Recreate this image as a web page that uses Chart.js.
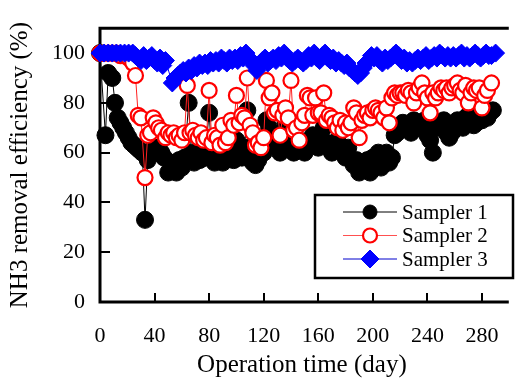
<!DOCTYPE html>
<html>
<head>
<meta charset="utf-8">
<script src="https://cdn.jsdelivr.net/npm/chart.js@4/dist/chart.umd.min.js"></script>
<style>
  html, body { margin: 0; padding: 0; background: #fff; }
</style>
</head>
<body>
<canvas id="grafico" width="520" height="386"></canvas>
<script>
// data (day, NH3 removal %)
const sampler1Days = [0, 4, 6, 9, 11, 13, 15, 17, 19, 21, 23, 25, 27, 29, 31, 33, 35, 37, 39, 41, 43, 45, 47, 50, 52, 54, 56, 58, 60, 62, 65, 67, 69, 71, 73, 75, 77, 80, 82, 84, 86, 88, 90, 92, 94, 96, 98, 100, 102, 104, 106, 108, 110, 112, 114, 116, 118, 120, 122, 124, 126, 128, 130, 132, 134, 136, 138, 140, 142, 144, 146, 148, 150, 152, 154, 156, 158, 160, 162, 164, 166, 168, 170, 172, 174, 176, 178, 180, 182, 184, 186, 188, 190, 192, 194, 196, 198, 200, 202, 204, 206, 208, 210, 212, 214, 216, 218, 220, 222, 224, 226, 228, 230, 232, 234, 236, 238, 240, 242, 244, 246, 248, 250, 252, 254, 256, 258, 260, 262, 264, 266, 268, 270, 272, 274, 276, 278, 280, 282, 284, 286, 288];
const sampler1 = [100, 67, 92, 90, 80, 74, 72, 70, 68, 66, 64, 63, 62, 61, 60, 33, 57, 60, 62, 60, 62, 60, 58, 52, 56, 55, 52, 57, 54, 58, 80, 60, 56, 58, 57, 60, 58, 76, 58, 56, 60, 57, 56, 60, 62, 58, 57, 65, 60, 58, 62, 77, 62, 56, 55, 57, 62, 60, 73, 70, 67, 63, 62, 60, 65, 72, 68, 62, 60, 61, 65, 62, 60, 63, 65, 67, 64, 62, 65, 70, 64, 62, 60, 61, 65, 62, 60, 58, 62, 57, 55, 57, 52, 55, 54, 57, 52, 58, 57, 60, 54, 57, 60, 56, 58, 67, 68, 70, 72, 70, 71, 68, 73, 72, 71, 70, 73, 67, 65, 60, 70, 72, 70, 73, 68, 66, 68, 70, 73, 72, 70, 74, 75, 73, 71, 72, 75, 73, 75, 74, 76, 77];

const sampler2Days = [0, 3, 6, 9, 12, 15, 18, 21, 24, 26, 28, 30, 33, 35, 37, 39, 41, 43, 45, 48, 50, 52, 54, 56, 58, 60, 62, 64, 66, 68, 70, 72, 74, 76, 78, 80, 82, 84, 86, 88, 90, 92, 94, 96, 98, 100, 102, 104, 106, 108, 110, 112, 114, 116, 118, 120, 122, 124, 126, 128, 130, 132, 134, 136, 138, 140, 142, 144, 146, 148, 150, 152, 154, 156, 158, 160, 162, 164, 166, 168, 170, 172, 174, 176, 178, 180, 182, 184, 186, 188, 190, 192, 194, 196, 198, 200, 202, 204, 206, 208, 210, 212, 214, 216, 218, 220, 222, 224, 226, 228, 230, 232, 234, 236, 238, 240, 242, 244, 246, 248, 250, 252, 254, 256, 258, 260, 262, 264, 266, 268, 270, 272, 274, 276, 278, 280, 282, 284, 287];
const sampler2 = [100, 100, 100, 100, 100, 99, 99, 98, 96, 91, 75, 74, 50, 67, 68, 74, 72, 70, 69, 66, 68, 67, 68, 66, 67, 65, 68, 87, 68, 69, 67, 66, 68, 65, 66, 85, 64, 67, 66, 63, 71, 64, 66, 73, 71, 83, 72, 75, 74, 90, 71, 68, 63, 64, 62, 66, 89, 82, 84, 76, 77, 67, 75, 78, 74, 89, 69, 70, 65, 72, 75, 83, 82, 75, 82, 76, 76, 84, 73, 75, 74, 72, 70, 73, 69, 72, 70, 72, 78, 76, 66, 73, 75, 76, 74, 77, 78, 77, 76, 74, 78, 72, 82, 84, 83, 84, 84, 83, 85, 84, 80, 84, 86, 88, 84, 82, 76, 84, 82, 84, 86, 85, 86, 84, 86, 87, 88, 85, 84, 87, 80, 84, 86, 85, 86, 78, 83, 85, 88];

const sampler3Days = [0, 3, 6, 9, 12, 15, 18, 21, 24, 26, 28, 30, 32, 34, 36, 38, 40, 42, 44, 46, 48, 53, 55, 57, 59, 61, 63, 65, 67, 69, 71, 73, 75, 77, 79, 81, 83, 85, 87, 89, 91, 93, 95, 97, 99, 101, 103, 105, 107, 109, 111, 113, 115, 117, 119, 121, 123, 125, 127, 129, 131, 133, 135, 137, 139, 141, 143, 145, 147, 149, 151, 153, 155, 157, 159, 161, 163, 165, 167, 169, 171, 173, 175, 177, 179, 181, 183, 185, 187, 189, 191, 193, 195, 197, 199, 201, 203, 205, 207, 209, 211, 213, 215, 217, 219, 221, 223, 225, 227, 229, 231, 233, 235, 237, 239, 241, 243, 245, 247, 249, 251, 253, 255, 257, 259, 261, 263, 265, 267, 269, 271, 273, 275, 277, 279, 281, 283, 285, 287, 290];
const sampler3 = [100, 100, 100, 100, 100, 100, 100, 100, 100, 99, 98, 97, 99, 97, 98, 99, 97, 96, 98, 95, 97, 88, 90, 91, 92, 93, 92, 94, 93, 95, 94, 96, 95, 96, 95, 97, 96, 97, 96, 98, 97, 96, 98, 97, 98, 97, 99, 98, 100, 98, 97, 95, 93, 95, 97, 98, 96, 97, 98, 97, 99, 98, 100, 98, 97, 96, 97, 98, 97, 96, 97, 99, 98, 100, 98, 97, 99, 100, 98, 97, 98, 96, 97, 96, 95, 96, 94, 93, 92, 91, 92, 94, 96, 97, 99, 98, 99, 97, 96, 98, 97, 98, 99, 100, 99, 97, 98, 96, 97, 96, 97, 98, 97, 98, 99, 97, 98, 99, 98, 100, 99, 98, 99, 98, 99, 98, 99, 100, 98, 99, 98, 99, 100, 99, 98, 99, 100, 99, 99, 100];

const nomes = ['Sampler 1', 'Sampler 2', 'Sampler 3'];
const xTicks = [0, 40, 80, 120, 160, 200, 240, 280];
const yTicks = [0, 20, 40, 60, 80, 100];

function pontos(dias, vals) {
  return dias.map((d, i) => ({ x: d, y: vals[i] }));
}

const serif = 'Liberation Serif';

// frame (top line too) and inward tick marks
const moldura = {
  id: 'moldura',
  beforeDatasetsDraw(chart) {
    const { ctx, chartArea: a, scales } = chart;
    ctx.save();
    ctx.strokeStyle = '#000';
    ctx.lineWidth = 3;
    ctx.beginPath();
    ctx.moveTo(a.right + 5, a.top);
    ctx.lineTo(a.left, a.top);
    ctx.lineTo(a.left, a.bottom);
    ctx.lineTo(a.right + 5, a.bottom);
    ctx.stroke();
    ctx.lineWidth = 2;
    ctx.beginPath();
    xTicks.forEach(v => {
      const px = Math.round(scales.x.getPixelForValue(v));
      if (v === 0) return;
      ctx.moveTo(px, a.bottom);
      ctx.lineTo(px, a.bottom - 9);
    });
    yTicks.forEach(v => {
      const py = Math.round(scales.y.getPixelForValue(v));
      if (v === 0) return;
      ctx.moveTo(a.left, py);
      ctx.lineTo(a.left + 10, py);
    });
    ctx.stroke();
    ctx.restore();
  },
  // boxed legend in the lower right
  afterDraw(chart) {
    const { ctx } = chart;
    const bx = 315, by = 195, bw = 198, bh = 83;
    ctx.save();
    ctx.fillStyle = '#fff';
    ctx.fillRect(bx, by, bw, bh);
    ctx.strokeStyle = '#000';
    ctx.lineWidth = 2.5;
    ctx.strokeRect(bx, by, bw, bh);
    ctx.font = '21px "' + serif + '"';
    ctx.textBaseline = 'middle';
    const linhas = ['#000', '#ff5050', '#0000cc'];
    chart.data.datasets.forEach((ds, i) => {
      const y = by + 17 + i * 23.5;
      ctx.strokeStyle = linhas[i];
      ctx.lineWidth = 1;
      ctx.beginPath();
      ctx.moveTo(343, y);
      ctx.lineTo(397, y);
      ctx.stroke();
      const opts = {
        pointStyle: ds.pointStyle,
        radius: ds.pointStyle === 'rectRot' ? 9 : 7,
        borderWidth: ds.pointBorderWidth,
        rotation: 0
      };
      ctx.fillStyle = ds.pointBackgroundColor;
      ctx.strokeStyle = ds.pointBorderColor;
      ctx.lineWidth = ds.pointBorderWidth;
      Chart.helpers.drawPoint(ctx, opts, 370, y);
      ctx.fillStyle = '#000';
      ctx.fillText(ds.label, 402, y + 1);
    });
    ctx.restore();
  }
};

const ctx = document.getElementById('grafico').getContext('2d');
const chart = new Chart(ctx, {
  type: 'line',
  data: {
    datasets: [
      {
        label: nomes[0],
        data: pontos(sampler1Days, sampler1),
        borderColor: '#000',
        borderWidth: 1,
        pointStyle: 'circle',
        pointRadius: 8.5,
        pointBackgroundColor: '#000',
        pointBorderColor: '#000',
        pointBorderWidth: 1,
        order: 3,
        clip: false
      },
      {
        label: nomes[1],
        data: pontos(sampler2Days, sampler2),
        borderColor: '#ff2020',
        borderWidth: 1,
        pointStyle: 'circle',
        pointRadius: 7.5,
        pointBackgroundColor: '#fff',
        pointBorderColor: '#ff0000',
        pointBorderWidth: 2.2,
        order: 2,
        clip: false
      },
      {
        label: nomes[2],
        data: pontos(sampler3Days, sampler3),
        borderColor: '#0000ff',
        borderWidth: 1,
        pointStyle: 'rectRot',
        pointRadius: 9,
        pointBackgroundColor: '#0000ff',
        pointBorderColor: '#0000ff',
        pointBorderWidth: 1,
        order: 1,
        clip: false
      }
    ]
  },
  options: {
    responsive: false,
    animation: false,
    layout: { padding: { top: 23, left: 0, right: 0, bottom: 0 } },
    scales: {
      x: {
        type: 'linear',
        min: 0,
        max: 296,
        grid: { display: false, drawTicks: false },
        border: { display: false },
        afterFit: s => { s.height = 84; },
        afterBuildTicks: s => { s.ticks = xTicks.map(v => ({ value: v })); },
        ticks: {
          padding: 21,
          color: '#000',
          font: { family: serif, size: 22 },
          maxRotation: 0
        },
        title: {
          display: true,
          text: 'Operation time (day)',
          color: '#000',
          font: { family: serif, size: 25 },
          padding: { top: 0, bottom: 6 }
        }
      },
      y: {
        min: 0,
        max: 110,
        grid: { display: false, drawTicks: false },
        border: { display: false },
        afterFit: s => { s.width = 100; },
        afterBuildTicks: s => { s.ticks = yTicks.map(v => ({ value: v })); },
        ticks: {
          padding: 15,
          color: '#000',
          font: { family: serif, size: 22 }
        },
        title: {
          display: true,
          text: 'NH3 removal efficiency (%)',
          color: '#000',
          font: { family: serif, size: 25 },
          padding: { top: 5, bottom: 0 }
        }
      }
    },
    plugins: {
      legend: { display: false },
      tooltip: { enabled: false }
    }
  },
  plugins: [moldura]
});
</script>
</body>
</html>
